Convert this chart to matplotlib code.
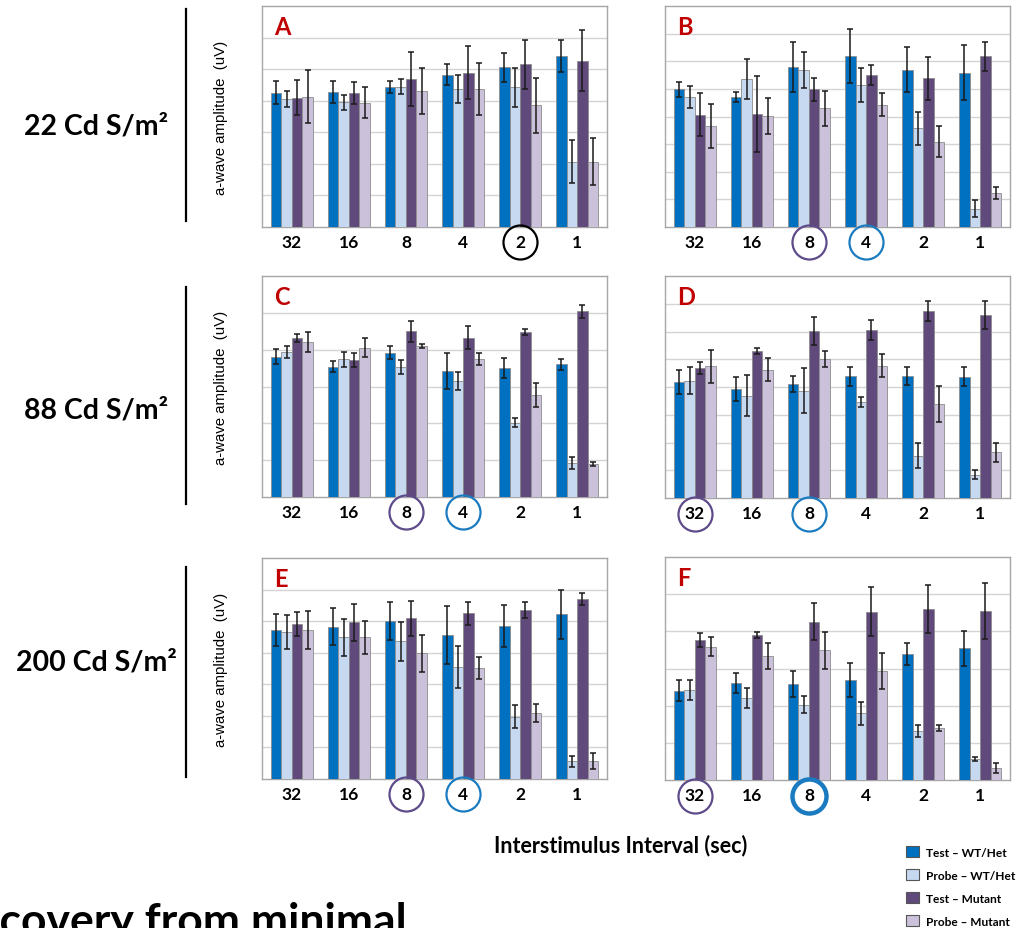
import matplotlib
matplotlib.use("Agg")
import matplotlib.pyplot as plt
import numpy as np
from matplotlib.lines import Line2D
from matplotlib.patches import Patch

# ---------------------------------------------------------------- data
intervals = ["32", "16", "8", "4", "2", "1"]
series_labels = ["Test \u2013 WT/Het", "Probe \u2013 WT/Het",
                 "Test \u2013 Mutant", "Probe \u2013 Mutant"]
series_colors = ["#0070C0", "#C6D9F1", "#604A7B", "#CCC1DA"]

# rows: Test WT/Het, Probe WT/Het, Test Mutant, Probe Mutant
panel_a_mean = [[4.26, 4.28, 4.43, 4.83, 5.06, 5.42],
                [4.05, 3.95, 4.45, 4.37, 4.42, 2.07],
                [4.10, 4.24, 4.69, 4.89, 5.15, 5.27],
                [4.13, 3.94, 4.31, 4.37, 3.86, 2.07]]
panel_a_err = [[0.36, 0.36, 0.18, 0.32, 0.46, 0.50],
               [0.25, 0.24, 0.25, 0.44, 0.62, 0.67],
               [0.55, 0.34, 0.85, 0.84, 0.78, 0.97],
               [0.84, 0.50, 0.73, 0.82, 0.87, 0.74]]

panel_b_mean = [[4.98, 4.71, 5.80, 6.18, 5.70, 5.58],
                [4.71, 5.37, 5.67, 5.15, 3.57, 0.66],
                [4.07, 4.09, 4.98, 5.50, 5.38, 6.18],
                [3.66, 4.01, 4.29, 4.43, 3.09, 1.24]]
panel_b_err = [[0.28, 0.19, 0.90, 0.98, 0.81, 1.00],
               [0.40, 0.72, 0.65, 0.62, 0.59, 0.31],
               [0.77, 1.38, 0.43, 0.36, 0.78, 0.53],
               [0.80, 0.65, 0.64, 0.41, 0.55, 0.22]]

panel_c_mean = [[3.81, 3.54, 3.92, 3.41, 3.50, 3.60],
                [3.94, 3.74, 3.54, 3.15, 2.02, 0.92],
                [4.32, 3.72, 4.50, 4.32, 4.48, 5.04],
                [4.22, 4.05, 4.10, 3.74, 2.77, 0.89]]
panel_c_err = [[0.20, 0.14, 0.17, 0.49, 0.27, 0.16],
               [0.16, 0.20, 0.19, 0.24, 0.13, 0.17],
               [0.11, 0.18, 0.28, 0.31, 0.08, 0.17],
               [0.27, 0.26, 0.05, 0.16, 0.32, 0.05]]

panel_d_mean = [[4.19, 3.93, 4.10, 4.38, 4.40, 4.37],
                [4.23, 3.69, 3.86, 3.47, 1.53, 0.84],
                [4.68, 5.31, 6.01, 6.05, 6.74, 6.59],
                [4.74, 4.63, 5.00, 4.77, 3.39, 1.65]]
panel_d_err = [[0.43, 0.43, 0.28, 0.34, 0.31, 0.35],
               [0.50, 0.73, 0.81, 0.18, 0.46, 0.17],
               [0.22, 0.11, 0.51, 0.36, 0.35, 0.51],
               [0.59, 0.41, 0.28, 0.41, 0.64, 0.35]]

panel_e_mean = [[4.72, 4.83, 5.01, 4.56, 4.84, 5.22],
                [4.67, 4.49, 4.36, 3.54, 1.97, 0.56],
                [4.91, 4.96, 5.09, 5.25, 5.35, 5.70],
                [4.73, 4.49, 3.98, 3.53, 2.09, 0.56]]
panel_e_err = [[0.52, 0.59, 0.60, 0.91, 0.66, 0.78],
               [0.54, 0.58, 0.61, 0.67, 0.37, 0.18],
               [0.38, 0.59, 0.55, 0.36, 0.26, 0.18],
               [0.60, 0.53, 0.59, 0.35, 0.30, 0.25]]

panel_f_mean = [[2.40, 2.61, 2.58, 2.70, 3.39, 3.55],
                [2.43, 2.20, 2.03, 1.79, 1.32, 0.56],
                [3.77, 3.91, 4.26, 4.53, 4.60, 4.55],
                [3.59, 3.34, 3.49, 2.93, 1.41, 0.32]]
panel_f_err = [[0.28, 0.28, 0.35, 0.46, 0.29, 0.47],
               [0.27, 0.27, 0.24, 0.30, 0.17, 0.06],
               [0.18, 0.08, 0.50, 0.65, 0.65, 0.76],
               [0.26, 0.35, 0.49, 0.48, 0.08, 0.13]]

row_labels = ["22 Cd S/m\u00b2", "88 Cd S/m\u00b2", "200 Cd S/m\u00b2"]

# ---------------------------------------------------------------- layout
W, H = 1025, 929
fig = plt.figure(figsize=(W / 100, H / 100), dpi=100)
fig.patch.set_facecolor("white")

PURPLE_RING = "#5E4B8A"
BLUE_RING = "#1B7BC0"
SANS = ["Lato", "DejaVu Sans"]


def px_axes(x0, y0, x1, y1):
    return fig.add_axes([x0 / W, 1 - y1 / H, (x1 - x0) / W, (y1 - y0) / H])


panels = [
    # letter, box (px), means, errors, y max, ringed ticks
    ("A", (262, 7, 607, 228), panel_a_mean, panel_a_err, 7,
     [(4, "black", 1.6)]),
    ("B", (665, 7, 1010, 228), panel_b_mean, panel_b_err, 8,
     [(2, PURPLE_RING, 1.6), (3, BLUE_RING, 1.6)]),
    ("C", (262, 277, 607, 498), panel_c_mean, panel_c_err, 6,
     [(2, PURPLE_RING, 1.6), (3, BLUE_RING, 1.6)]),
    ("D", (665, 277, 1010, 499), panel_d_mean, panel_d_err, 8,
     [(0, PURPLE_RING, 1.6), (2, BLUE_RING, 1.6)]),
    ("E", (262, 559, 607, 780), panel_e_mean, panel_e_err, 7,
     [(2, PURPLE_RING, 1.6), (3, BLUE_RING, 1.6)]),
    ("F", (665, 558, 1010, 781), panel_f_mean, panel_f_err, 6,
     [(0, PURPLE_RING, 1.6), (2, BLUE_RING, 3.2)]),
]

x = np.arange(len(intervals))
bw = 0.184
offsets = (np.arange(4) - 1.5) * bw

for letter, box, means, errs, ymax, rings in panels:
    ax = px_axes(*box)
    for k in range(4):
        ax.bar(x + offsets[k], means[k], width=bw, color=series_colors[k],
               edgecolor="#8C8C8C", linewidth=0.6, zorder=3)
        ax.errorbar(x + offsets[k], means[k], yerr=errs[k], fmt="none",
                    ecolor="#1A1A1A", elinewidth=1.1, capsize=2.0,
                    capthick=1.1, zorder=4)
    ax.set_xlim(-0.525, 5.525)
    ax.set_ylim(0, ymax)
    ax.set_yticks(np.arange(1, ymax))
    ax.yaxis.grid(True, color="#D4D4D4", linewidth=1.0, zorder=0)
    ax.set_axisbelow(True)
    ax.tick_params(axis="y", left=False, labelleft=False)
    ax.set_xticks(x)
    ax.set_xticklabels(intervals, fontsize=12.5, fontweight="bold",
                       family=SANS)
    ax.tick_params(axis="x", length=0, pad=5)
    for s in ax.spines.values():
        s.set_color("#A6A6A6")
        s.set_linewidth(1.0)
    ax.text(0.035, 0.96, letter, transform=ax.transAxes, ha="left", va="top",
            fontsize=17, fontweight="bold", color="#C00000", family=SANS)
    # rings around highlighted interval labels
    trans = ax.get_xaxis_transform()
    for idx, col, lw in rings:
        ax.plot([idx], [-0.07], marker="o", markersize=24.5,
                fillstyle="none", markeredgecolor=col, markeredgewidth=lw,
                transform=trans, clip_on=False, zorder=5)
    if letter in ("A", "C", "E"):
        ax.text(-0.118, 0.50, "a-wave amplitude  (uV)", transform=ax.transAxes,
                rotation=90, ha="center", va="center", fontsize=10.8,
                family=["Liberation Sans", "DejaVu Sans"])

# intensity labels and bracket lines on the left
row_centres = [127, 410, 663]
row_spans = [(10, 222), (288, 505), (568, 778)]
for lab, yc, (ya, yb) in zip(row_labels, row_centres, row_spans):
    fig.text(96 / W, 1 - yc / H, lab, ha="center", va="center",
             fontsize=20.5, fontweight="bold", family=SANS)
    fig.add_artist(Line2D([186 / W, 186 / W], [1 - ya / H, 1 - yb / H],
                          color="black", linewidth=1.6))

fig.text(621 / W, 1 - 846 / H, "Interstimulus Interval (sec)", ha="center",
         va="center", fontsize=15.5, fontweight="bold", family=SANS)

fig.text(407 / W, 1 - 935 / H, "Recovery from minimal", ha="right",
         va="baseline", fontsize=32, fontweight="bold", family=SANS)

handles = [Patch(facecolor=c, edgecolor="#555555", linewidth=0.8)
           for c in series_colors]
fig.legend(handles, series_labels, loc="upper left",
           bbox_to_anchor=(906 / W, 1 - 847 / H), frameon=False,
           handlelength=1.1, handleheight=1.1, handletextpad=0.55,
           labelspacing=0.93, borderaxespad=0, borderpad=0,
           prop={"family": SANS, "weight": "bold", "size": 8.6})

fig.savefig("out.png", dpi=100, facecolor="white")
